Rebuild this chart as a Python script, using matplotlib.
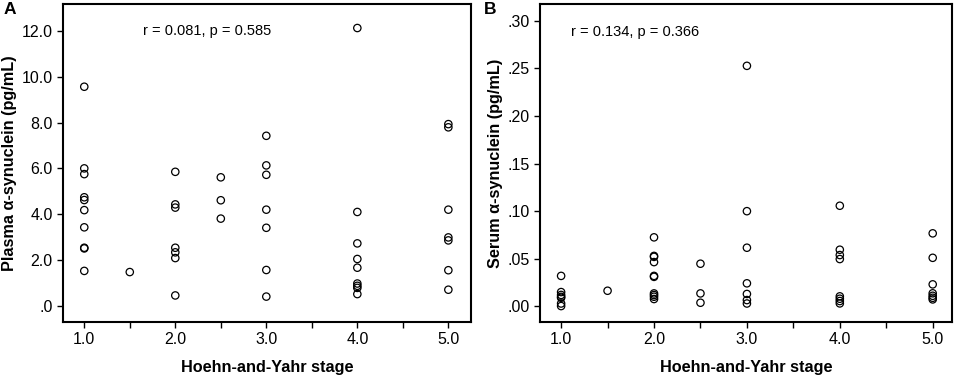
import numpy as np
import matplotlib.pyplot as plt
from matplotlib.ticker import MultipleLocator, FuncFormatter

plt.rcParams['font.family'] = ['Liberation Sans', 'DejaVu Sans']

# Panel A: plasma alpha-synuclein vs Hoehn-and-Yahr stage
stage_a = [1.0] * 10 + [1.5] + [2.0] * 7 + [2.5] * 3 + [3.0] * 7 + [4.0] * 9 + [5.0] * 7
plasma = [9.56, 6.00, 5.75, 4.74, 4.62, 4.18, 3.43, 2.54, 2.51, 1.53,
          1.48,
          5.85, 4.43, 4.29, 2.54, 2.34, 2.09, 0.46,
          5.61, 4.61, 3.81,
          7.42, 6.13, 5.72, 4.20, 3.41, 1.57, 0.41,
          12.12, 4.10, 2.73, 2.05, 1.67, 0.98, 0.88, 0.79, 0.52,
          7.93, 7.79, 4.20, 2.99, 2.86, 1.56, 0.71]

# Panel B: serum alpha-synuclein vs Hoehn-and-Yahr stage
stage_b = [1.0] * 7 + [1.5] + [2.0] * 10 + [2.5] * 3 + [3.0] * 7 + [4.0] * 8 + [5.0] * 7
serum = [0.032, 0.015, 0.012, 0.010, 0.009, 0.003, 0.0003,
         0.0164,
         0.0725, 0.053, 0.052, 0.0465, 0.032, 0.031, 0.0136, 0.0119, 0.0101, 0.0077,
         0.0448, 0.0136, 0.0038,
         0.2527, 0.100, 0.0616, 0.0242, 0.013, 0.0066, 0.003,
         0.1057, 0.0595, 0.0539, 0.0497, 0.0105, 0.008, 0.0056, 0.0031,
         0.0767, 0.051, 0.0231, 0.0137, 0.0111, 0.009, 0.0073]

fig = plt.figure(figsize=(9.57, 3.78), dpi=100)
ax_a = fig.add_axes([0.0658, 0.148, 0.426, 0.841])
ax_b = fig.add_axes([0.564, 0.148, 0.431, 0.841])


def style(ax):
    for sp in ax.spines.values():
        sp.set_linewidth(1.5)
    ax.xaxis.set_major_locator(MultipleLocator(1.0))
    ax.xaxis.set_minor_locator(MultipleLocator(0.5))
    ax.xaxis.set_major_formatter(FuncFormatter(lambda v, p: f'{v:.1f}'))
    ax.tick_params(which='both', direction='out', length=4, width=1, labelsize=11.5)
    ax.tick_params(which='minor', length=4)
    ax.set_xlabel('Hoehn-and-Yahr stage', fontsize=11.7, fontweight='bold', labelpad=9)


# A
ax_a.scatter(stage_a, plasma, s=28, facecolors='none', edgecolors='black', linewidths=0.9)
ax_a.set_xlim(0.766, 5.245)
ax_a.set_ylim(-0.70, 13.16)
style(ax_a)
ax_a.yaxis.set_major_locator(MultipleLocator(2.0))
ax_a.yaxis.set_major_formatter(FuncFormatter(lambda v, p: '.0' if v == 0 else f'{v:.1f}'))
ax_a.set_ylabel('Plasma α-synuclein (pg/mL)', fontsize=11.7, fontweight='bold', labelpad=3)
ax_a.text(1.64, 12.0, 'r = 0.081, p = 0.585', fontsize=10.5, va='center', ha='left')
fig.text(0.004, 0.975, 'A', fontsize=12.5, fontweight='bold', va='center')

# B
ax_b.scatter(stage_b, serum, s=28, facecolors='none', edgecolors='black', linewidths=0.9)
ax_b.set_xlim(0.77, 5.21)
ax_b.set_ylim(-0.0165, 0.3175)
style(ax_b)
ax_b.yaxis.set_major_locator(MultipleLocator(0.05))
ax_b.yaxis.set_major_formatter(FuncFormatter(lambda v, p: f'{v:.2f}'.lstrip('0')))
ax_b.set_ylabel('Serum α-synuclein (pg/mL)', fontsize=11.7, fontweight='bold', labelpad=3)
ax_b.text(1.11, 0.288, 'r = 0.134, p = 0.366', fontsize=10.5, va='center', ha='left')
fig.text(0.506, 0.975, 'B', fontsize=12.5, fontweight='bold', va='center')

fig.savefig('out.png', dpi=100)
